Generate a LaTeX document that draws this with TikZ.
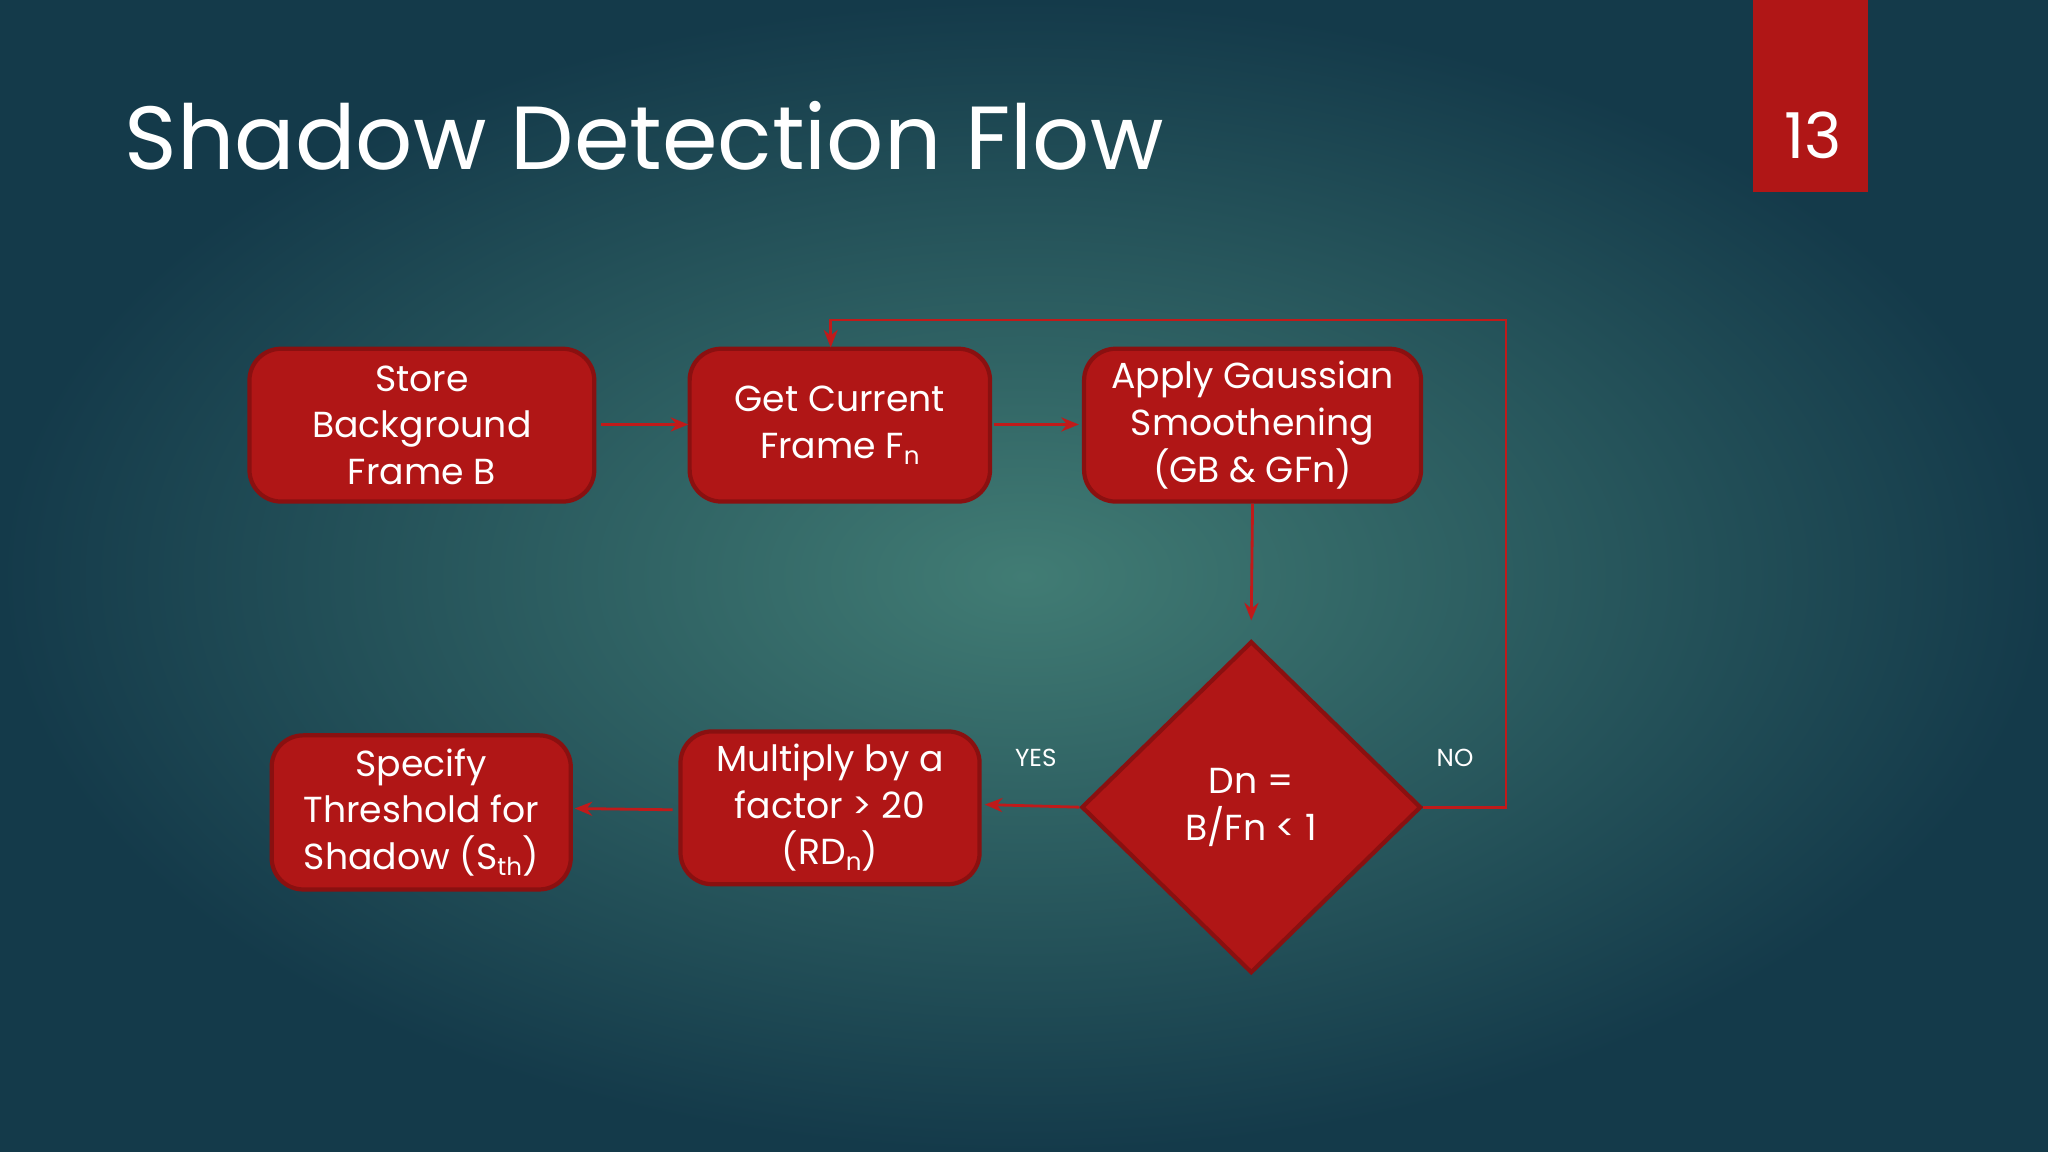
\documentclass[tikz,border=0pt]{standalone}
\usepackage{fontspec}
\setmainfont{Poppins}
\usetikzlibrary{shapes.geometric,arrows.meta}
\definecolor{bgin}{HTML}{417C74}
\definecolor{bgout}{HTML}{143A4A}
\definecolor{boxred}{HTML}{B01616}
\definecolor{boxedge}{HTML}{8A1010}
\definecolor{arr}{HTML}{C01A1A}
\newcommand{\sbs}[1]{\raisebox{-0.15em}{\scriptsize #1}}
\tikzset{
  box/.style={draw=boxedge,line width=1.2pt,fill=boxred,rounded corners=9pt,text=white,align=center,font=\fontsize{10.3}{13.3}\selectfont,inner sep=0pt},
  conn/.style={draw=arr,line width=0.8pt,-{Stealth[length=5pt,width=4pt]}},
  lbl/.style={text=white,font=\fontsize{7}{9}\selectfont}
}
\begin{document}
\begin{tikzpicture}[x=0.0130612cm,y=-0.0130612cm]
\useasboundingbox (0,0) rectangle (1568,882);
\shade[inner color=bgin,outer color=bgout] (0,0) rectangle (1568,882);
\fill[boxred] (1342,0) rectangle (1430,147);
\node[text=white,font=\fontsize{18}{22}\selectfont] (num) at (1388,104) {13};
\node[anchor=base west,text=white,font=\fontsize{25.5}{30}\selectfont,inner sep=0pt] (title) at (95,130) {Shadow Detection Flow};
\node[box,minimum width=264*0.0130612cm,minimum height=117*0.0130612cm] (b1) at (323,325.5) {Store\\Background\\Frame B};
\node[box,minimum width=230*0.0130612cm,minimum height=117*0.0130612cm] (b2) at (643,325.5) {Get Current\\Frame F\sbs{n}};
\node[box,minimum width=258*0.0130612cm,minimum height=117*0.0130612cm] (b3) at (959,325.5) {Apply Gaussian\\Smoothening\\(GB \& GFn)};
\node[diamond,draw=boxedge,line width=1.2pt,fill=boxred,text=white,align=center,font=\fontsize{10.3}{13.3}\selectfont,minimum width=260*0.0130612cm,minimum height=254*0.0130612cm,inner sep=0pt] (d) at (958,618) {Dn =\\B/Fn {<} 1};
\node[box,minimum width=229*0.0130612cm,minimum height=117*0.0130612cm] (b4) at (635.5,618.5) {Multiply by a\\factor {>} 20\\(RD\sbs{n})};
\node[box,minimum width=229*0.0130612cm,minimum height=118*0.0130612cm] (b5) at (322.5,622) {Specify\\Threshold for\\Shadow (S\sbs{th})};
\node[lbl] (yes) at (793,580) {YES};
\node[lbl] (no) at (1114,580) {NO};
\coordinate (p1s) at (460,325); \coordinate (p1e) at (527,325);
\coordinate (p2s) at (761,325); \coordinate (p2e) at (826,325);
\coordinate (p3e) at (958,475);
\coordinate (p4e) at (754,616);
\coordinate (p5s) at (515,620); \coordinate (p5e) at (440,619);
\coordinate (c1) at (1153,618);
\coordinate (c2) at (1153,245);
\coordinate (c3) at (636,245);
\coordinate (c4) at (636,266);
\draw[conn] (p1s) -- (p1e);
\draw[conn] (p2s) -- (p2e);
\draw[conn] (b3.south) -- (p3e);
\draw[conn] (d.west) -- (p4e);
\draw[conn] (p5s) -- (p5e);
\draw[conn] (d.east) -- (c1) -- (c2) -- (c3) -- (c4);
\end{tikzpicture}
\end{document}
